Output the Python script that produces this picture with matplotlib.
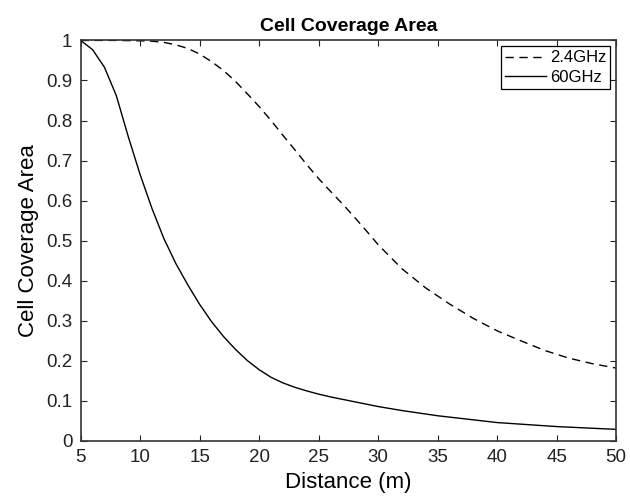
import matplotlib
matplotlib.use('Agg')
import matplotlib.pyplot as plt

plt.rcParams['font.family'] = ['Liberation Sans', 'DejaVu Sans']

# 2.4 GHz (dashed)
x_24 = [5, 8, 10, 11, 12, 13, 14, 15, 16, 17, 18, 19, 20, 21, 22, 23, 24, 25,
        26, 27, 28, 29, 30, 32, 34, 36, 38, 40, 42, 44, 46, 48, 50]
y_24 = [1.0, 1.0, 0.999, 0.998, 0.995, 0.989, 0.98, 0.966, 0.947, 0.925, 0.898,
        0.867, 0.835, 0.80, 0.763, 0.727, 0.69, 0.655, 0.623, 0.592, 0.559,
        0.525, 0.49, 0.43, 0.382, 0.342, 0.306, 0.275, 0.25, 0.226, 0.207,
        0.193, 0.182]

# 60 GHz (solid)
x_60 = [5, 6, 7, 8, 9, 10, 11, 12, 13, 14, 15, 16, 17, 18, 19, 20, 21, 22, 23,
        24, 25, 26, 27, 28, 29, 30, 32, 35, 40, 45, 50]
y_60 = [1.0, 0.977, 0.933, 0.862, 0.76, 0.665, 0.58, 0.505, 0.443, 0.39, 0.341,
        0.298, 0.261, 0.229, 0.201, 0.178, 0.159, 0.145, 0.134, 0.125, 0.117,
        0.11, 0.104, 0.098, 0.092, 0.086, 0.076, 0.063, 0.046, 0.036, 0.029]

x_ticks = [5, 10, 15, 20, 25, 30, 35, 40, 45, 50]
y_ticks = [0, 0.1, 0.2, 0.3, 0.4, 0.5, 0.6, 0.7, 0.8, 0.9, 1]
y_ticklabels = ['0', '0.1', '0.2', '0.3', '0.4', '0.5', '0.6', '0.7', '0.8', '0.9', '1']

fig = plt.figure(figsize=(6.3, 4.97), dpi=100)
ax = fig.add_axes([0.128, 0.1127, 0.85, 0.806])

ax.plot(x_24, y_24, color='black', linewidth=1.0, linestyle=(0, (6, 4)), label='2.4GHz')
ax.plot(x_60, y_60, color='black', linewidth=1.0, label='60GHz')

ax.set_xlim(5, 50)
ax.set_ylim(0, 1)
ax.set_xticks(x_ticks)
ax.set_yticks(y_ticks)
ax.set_yticklabels(y_ticklabels)
ax.tick_params(direction='in', top=True, right=True, length=4, width=0.8,
               labelsize=13.5, colors='#222222')
ax.tick_params(axis='x', pad=6)
ax.tick_params(axis='y', pad=6)
for s in ax.spines.values():
    s.set_linewidth(1.2)
    s.set_color('#333333')

ax.set_xlabel('Distance (m)', fontsize=16, labelpad=4)
ax.set_ylabel('Cell Coverage Area', fontsize=16, labelpad=5)
ax.set_title('Cell Coverage Area', fontsize=14, fontweight='bold', pad=7)

leg = ax.legend(loc='upper right', fontsize=12, handlelength=2.5, handletextpad=0.2,
                borderpad=0.25, labelspacing=0.25, borderaxespad=0.35, fancybox=False,
                framealpha=1, edgecolor='black')
leg.get_frame().set_linewidth(0.9)

fig.savefig('out.png', dpi=100)
